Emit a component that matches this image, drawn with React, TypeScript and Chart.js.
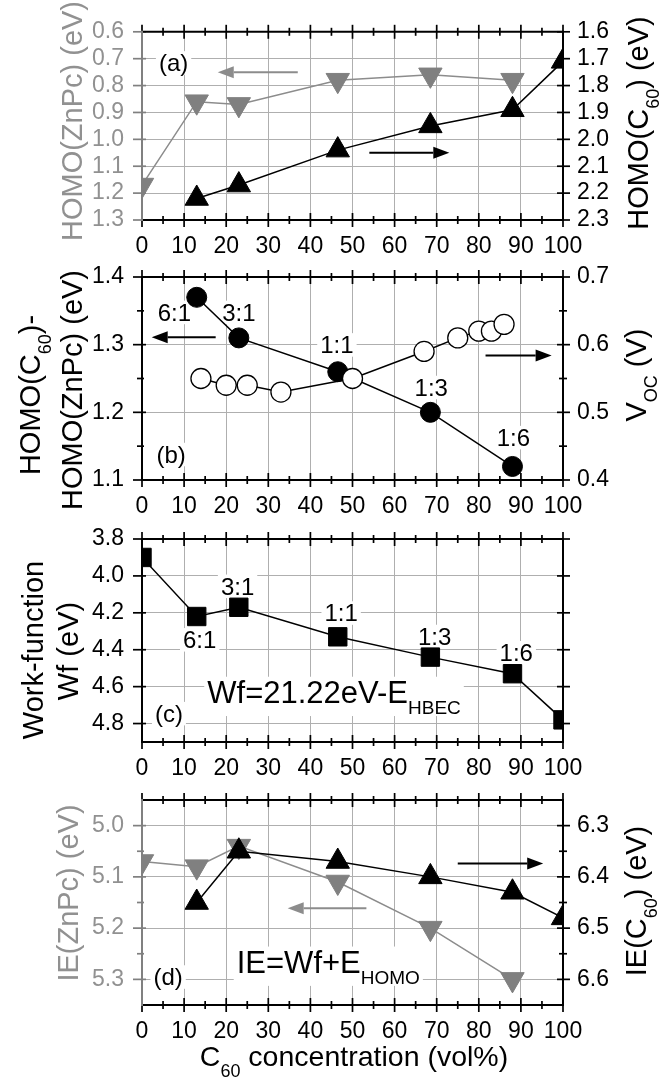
import React, { useEffect, useRef } from 'react';
import { Chart, registerables } from 'chart.js';

Chart.register(...registerables);

const W = 668;
const H = 1079;
const PLOT_L = 142;
const PLOT_R = 563;
const FONT = '"Liberation Sans", Arial, Helvetica, sans-serif';
const BLACK = '#000000';
const GRAY = 'rgb(128,128,128)';
const GRAY_LINE = 'rgb(140,140,140)';
const GRAY_TEXT = 'rgb(145,145,145)';
const GRID = 'rgb(175,175,175)';
const TICK_SIZE = 23;

// ---------------- data ----------------
const xTicks = [0, 10, 20, 30, 40, 50, 60, 70, 80, 90, 100];
const xMinor = [5, 15, 25, 35, 45, 55, 65, 75, 85, 95];

// (a) HOMO positions
const aZnPcX = [0, 13, 23, 46.5, 68.5, 88];
const aZnPcHOMO = [1.17, 0.86, 0.87, 0.78, 0.76, 0.78];
const aC60X = [13, 23, 46.5, 68.5, 88, 100];
const aC60HOMO = [2.22, 2.17, 2.04, 1.95, 1.89, 1.71];
const aLeftTicks = [0.6, 0.7, 0.8, 0.9, 1.0, 1.1, 1.2, 1.3];
const aRightTicks = [1.6, 1.7, 1.8, 1.9, 2.0, 2.1, 2.2, 2.3];

// (b) HOMO offset and Voc
const ratioLabels = ['6:1', '3:1', '1:1', '1:3', '1:6'];
const bRatioX = [13, 23, 46.5, 68.5, 88];
const bDeltaHOMO = [1.37, 1.31, 1.26, 1.2, 1.12];
const bVocX = [14, 20, 25, 33, 50, 67, 75, 80, 83, 86];
const bVoc = [0.55, 0.54, 0.54, 0.53, 0.55, 0.59, 0.61, 0.62, 0.62, 0.63];
const bLeftTicks = [1.1, 1.2, 1.3, 1.4];
const bLeftMinor = [1.15, 1.25, 1.35];
const bRightTicks = [0.4, 0.5, 0.6, 0.7];
const bRightMinor = [0.45, 0.55, 0.65];

// (c) work function
const cX = [0, 13, 23, 46.5, 68.5, 88, 100];
const cWf = [3.9, 4.22, 4.17, 4.33, 4.44, 4.53, 4.78];
const cTicks = [3.8, 4.0, 4.2, 4.4, 4.6, 4.8];

// (d) ionisation energies
const dZnPcX = [0, 13, 23, 46.5, 68.5, 88];
const dZnPcIE = [5.07, 5.08, 5.04, 5.11, 5.2, 5.3];
const dC60X = [13, 23, 46.5, 68.5, 88, 100];
const dC60IE = [6.45, 6.35, 6.37, 6.4, 6.43, 6.48];
const dLeftTicks = [5.0, 5.1, 5.2, 5.3];
const dLeftMinor = [5.05, 5.15, 5.25];
const dRightTicks = [6.3, 6.4, 6.5, 6.6];
const dRightMinor = [6.35, 6.45, 6.55];

// ---------------- helpers ----------------
type Seg = { t: string; sub?: boolean };

const pts = (xs: number[], ys: number[]) => xs.map((x, i) => ({ x, y: ys[i] }));

function drawRich(
  ctx: CanvasRenderingContext2D,
  segs: Seg[],
  x: number,
  y: number,
  size: number,
  color: string,
  opts: { rotate?: boolean; align?: 'left' | 'center'; bg?: boolean } = {}
) {
  const subSize = Math.round(size * 0.62);
  const widths = segs.map((s) => {
    ctx.font = `${s.sub ? subSize : size}px ${FONT}`;
    return ctx.measureText(s.t).width;
  });
  const total = widths.reduce((a, b) => a + b, 0);
  ctx.save();
  ctx.translate(x, y);
  if (opts.rotate) ctx.rotate(-Math.PI / 2);
  let cx = opts.align === 'left' ? 0 : -total / 2;
  const base = size * 0.36;
  const subDrop = size * 0.36;
  if (opts.bg) {
    const hasSub = segs.some((s) => s.sub);
    ctx.fillStyle = '#ffffff';
    ctx.fillRect(cx - 3, -size * 0.48, total + 6, size * 0.98 + (hasSub ? subDrop * 0.8 : 0));
  }
  ctx.fillStyle = color;
  ctx.textAlign = 'left';
  ctx.textBaseline = 'alphabetic';
  segs.forEach((s, i) => {
    ctx.font = `${s.sub ? subSize : size}px ${FONT}`;
    ctx.fillText(s.t, cx, base + (s.sub ? subDrop : 0));
    cx += widths[i];
  });
  ctx.restore();
}

function drawArrow(ctx: CanvasRenderingContext2D, x1: number, x2: number, y: number, color: string) {
  const dir = Math.sign(x2 - x1);
  const head = 16;
  const half = 6;
  ctx.save();
  ctx.strokeStyle = color;
  ctx.lineWidth = 2;
  ctx.beginPath();
  ctx.moveTo(x1, y);
  ctx.lineTo(x2 - dir * head, y);
  ctx.stroke();
  ctx.fillStyle = color;
  ctx.beginPath();
  ctx.moveTo(x2, y);
  ctx.lineTo(x2 - dir * head, y - half);
  ctx.lineTo(x2 - dir * head, y + half);
  ctx.closePath();
  ctx.fill();
  ctx.restore();
}

type AxisSpec = {
  min: number;
  max: number;
  reverse: boolean;
  ticks: number[];
  minor: number[];
  labels: boolean;
  color: string;
  axisColor: string;
};

type Note = { segs: Seg[]; x: number; y: number; axis: 'y' | 'y2'; size: number; align?: 'left' | 'center' };
type ArrowSpec = { x1: number; x2: number; y: number; axis: 'y' | 'y2'; color: string };
type Title = { segs: Seg[]; x: number; y: number; size: number; color: string; rotate: boolean };

type PanelSpec = {
  top: number;
  bottom: number;
  y: AxisSpec;
  y2: AxisSpec;
  datasets: () => any[];
  notes: Note[];
  arrows: ArrowSpec[];
  titles: Title[];
};

const triangleDown = (color: string) => ({
  showLine: true,
  borderColor: color === BLACK ? BLACK : GRAY_LINE,
  borderWidth: 1.5,
  pointStyle: 'triangle',
  pointRotation: 180,
  pointRadius: 13.5,
  pointBackgroundColor: color,
  pointBorderColor: color,
  pointBorderWidth: 1,
  clip: 0,
});
const triangleUp = (color: string) => ({ ...triangleDown(color), pointRotation: 0 });

const TS = 29; // axis title font size

// ---------------- panels ----------------
const specA: PanelSpec = {
  top: 20,
  bottom: 220,
  y: { min: 0.6, max: 1.3, reverse: true, ticks: aLeftTicks, minor: [], labels: true, color: GRAY_TEXT, axisColor: GRAY },
  y2: { min: 1.6, max: 2.3, reverse: true, ticks: aRightTicks, minor: [], labels: true, color: BLACK, axisColor: BLACK },
  datasets: () => [
    { ...triangleUp(BLACK), data: pts(aC60X, aC60HOMO), yAxisID: 'y2' },
    { ...triangleDown(GRAY), data: pts(aZnPcX, aZnPcHOMO), yAxisID: 'y' },
  ],
  notes: [{ segs: [{ t: '(a)' }], x: 7.5, y: 0.715, axis: 'y', size: 24 }],
  arrows: [
    { x1: 37, x2: 18, y: 0.75, axis: 'y', color: GRAY_LINE },
    { x1: 54, x2: 73, y: 2.05, axis: 'y2', color: BLACK },
  ],
  titles: [
    { segs: [{ t: 'HOMO(ZnPc) (eV)' }], x: 72, y: 121, size: TS, color: GRAY_TEXT, rotate: true },
    { segs: [{ t: 'HOMO(C' }, { t: '60', sub: true }, { t: ') (eV)' }], x: 638, y: 123, size: TS, color: BLACK, rotate: true },
  ],
};

const ratioNotesB: [number, number][] = [
  [7.7, 1.348],
  [23, 1.348],
  [46.3, 1.3],
  [68.7, 1.237],
  [88.2, 1.163],
];

const specB: PanelSpec = {
  top: 277,
  bottom: 480,
  y: { min: 1.1, max: 1.4, reverse: false, ticks: bLeftTicks, minor: bLeftMinor, labels: true, color: BLACK, axisColor: BLACK },
  y2: { min: 0.4, max: 0.7, reverse: false, ticks: bRightTicks, minor: bRightMinor, labels: true, color: BLACK, axisColor: BLACK },
  datasets: () => [
    {
      data: pts(bVocX, bVoc),
      yAxisID: 'y2',
      showLine: true,
      borderColor: BLACK,
      borderWidth: 1.5,
      pointStyle: 'circle',
      pointRadius: 10,
      pointBackgroundColor: '#ffffff',
      pointBorderColor: BLACK,
      pointBorderWidth: 1.3,
      clip: 0,
    },
    {
      data: pts(bRatioX, bDeltaHOMO),
      yAxisID: 'y',
      showLine: true,
      borderColor: BLACK,
      borderWidth: 1.5,
      pointStyle: 'circle',
      pointRadius: 10,
      pointBackgroundColor: BLACK,
      pointBorderColor: BLACK,
      pointBorderWidth: 1,
      clip: 0,
    },
  ],
  notes: [
    ...ratioLabels.map((t, i) => ({ segs: [{ t }], x: ratioNotesB[i][0], y: ratioNotesB[i][1], axis: 'y' as const, size: 24 })),
    { segs: [{ t: '(b)' }], x: 6.9, y: 1.138, axis: 'y', size: 24 },
  ],
  arrows: [
    { x1: 17.5, x2: 2.3, y: 1.311, axis: 'y', color: BLACK },
    { x1: 81.6, x2: 97.3, y: 1.284, axis: 'y', color: BLACK },
  ],
  titles: [
    { segs: [{ t: 'HOMO(C' }, { t: '60', sub: true }, { t: ')-' }], x: 30, y: 395, size: TS, color: BLACK, rotate: true },
    { segs: [{ t: 'HOMO(ZnPc) (eV)' }], x: 72, y: 390, size: TS, color: BLACK, rotate: true },
    { segs: [{ t: 'V' }, { t: 'OC', sub: true }, { t: ' (V)' }], x: 636, y: 375, size: TS, color: BLACK, rotate: true },
  ],
};

const ratioNotesC: [number, number][] = [
  [13.7, 4.345],
  [22.7, 4.055],
  [47.3, 4.2],
  [69.5, 4.327],
  [88.9, 4.415],
];

const specC: PanelSpec = {
  top: 539,
  bottom: 742,
  y: { min: 3.8, max: 4.9, reverse: true, ticks: cTicks, minor: [], labels: true, color: BLACK, axisColor: BLACK },
  y2: { min: 3.8, max: 4.9, reverse: true, ticks: cTicks, minor: [], labels: false, color: BLACK, axisColor: BLACK },
  datasets: () => [
    {
      data: pts(cX, cWf),
      yAxisID: 'y',
      showLine: true,
      borderColor: BLACK,
      borderWidth: 1.5,
      pointStyle: 'rect',
      pointRadius: 13,
      pointBackgroundColor: BLACK,
      pointBorderColor: BLACK,
      pointBorderWidth: 1,
      clip: 0,
    },
  ],
  notes: [
    ...ratioLabels.map((t, i) => ({ segs: [{ t }], x: ratioNotesC[i][0], y: ratioNotesC[i][1], axis: 'y' as const, size: 24 })),
    { segs: [{ t: '(c)' }], x: 6.4, y: 4.745, axis: 'y', size: 24 },
    { segs: [{ t: 'Wf=21.22eV-E' }, { t: 'HBEC', sub: true }], x: 15.5, y: 4.627, axis: 'y', size: 31, align: 'left' },
  ],
  arrows: [],
  titles: [
    { segs: [{ t: 'Work-function' }], x: 33, y: 650, size: TS, color: BLACK, rotate: true },
    { segs: [{ t: 'Wf (eV)' }], x: 68, y: 651, size: TS, color: BLACK, rotate: true },
  ],
};

const specD: PanelSpec = {
  top: 800,
  bottom: 1005,
  y: { min: 4.95, max: 5.35, reverse: true, ticks: dLeftTicks, minor: dLeftMinor, labels: true, color: GRAY_TEXT, axisColor: GRAY },
  y2: { min: 6.25, max: 6.65, reverse: true, ticks: dRightTicks, minor: dRightMinor, labels: true, color: BLACK, axisColor: BLACK },
  datasets: () => [
    { ...triangleUp(BLACK), data: pts(dC60X, dC60IE), yAxisID: 'y2' },
    { ...triangleDown(GRAY), data: pts(dZnPcX, dZnPcIE), yAxisID: 'y' },
  ],
  notes: [
    { segs: [{ t: '(d)' }], x: 6.2, y: 5.295, axis: 'y', size: 24 },
    { segs: [{ t: 'IE=Wf+E' }, { t: 'HOMO', sub: true }], x: 22.5, y: 5.265, axis: 'y', size: 31, align: 'left' },
  ],
  arrows: [
    { x1: 75, x2: 95.3, y: 6.374, axis: 'y2', color: BLACK },
    { x1: 53.3, x2: 34.6, y: 5.161, axis: 'y', color: GRAY_LINE },
  ],
  titles: [
    { segs: [{ t: 'IE(ZnPc) (eV)' }], x: 68, y: 893, size: TS, color: GRAY_TEXT, rotate: true },
    { segs: [{ t: 'IE(C' }, { t: '60', sub: true }, { t: ') (eV)' }], x: 636, y: 901, size: TS, color: BLACK, rotate: true },
    { segs: [{ t: 'C' }, { t: '60', sub: true }, { t: ' concentration (vol%)' }], x: 354, y: 1056, size: 28.5, color: BLACK, rotate: false },
  ],
};

const panels = [specA, specB, specC, specD];

// ---------------- chart ----------------
const LW = 80;
const RW = 80;
const XH = 40;

function yScale(a: AxisSpec, position: 'left' | 'right', grid: boolean) {
  return {
    type: 'linear',
    position,
    min: a.min,
    max: a.max,
    reverse: a.reverse,
    afterBuildTicks: (s: any) => {
      s.ticks = a.ticks.map((v) => ({ value: v }));
    },
    afterFit: (s: any) => {
      s.width = position === 'left' ? LW : RW;
    },
    ticks: {
      display: a.labels,
      autoSkip: false,
      font: { family: FONT, size: TICK_SIZE },
      color: a.color,
      padding: position === 'left' ? 18 : 14,
      callback: (v: any) => Number(v).toFixed(1),
    },
    grid: { display: grid, drawOnChartArea: grid, drawTicks: false, color: GRID, lineWidth: 1 },
    border: { display: false },
  };
}

function makeChart(canvas: HTMLCanvasElement, p: PanelSpec) {
  const frame = {
    id: 'frame',
    beforeDatasetsDraw(chart: any) {
      const ctx = chart.ctx as CanvasRenderingContext2D;
      const xs = chart.scales.x;
      p.notes.forEach((n) => {
        const sc = chart.scales[n.axis];
        drawRich(ctx, n.segs, xs.getPixelForValue(n.x), sc.getPixelForValue(n.y), n.size, BLACK, {
          align: n.align || 'center',
          bg: true,
        });
      });
      p.arrows.forEach((a) => {
        const sc = chart.scales[a.axis];
        drawArrow(ctx, xs.getPixelForValue(a.x1), xs.getPixelForValue(a.x2), sc.getPixelForValue(a.y), a.color);
      });
    },
    afterDatasetsDraw(chart: any) {
      const ctx = chart.ctx as CanvasRenderingContext2D;
      const { left, right, top, bottom } = chart.chartArea;
      const xs = chart.scales.x;
      const ys = chart.scales.y;
      const y2 = chart.scales.y2;
      const seg = (x1: number, y1: number, x2: number, y2v: number, color: string, w: number) => {
        ctx.strokeStyle = color;
        ctx.lineWidth = w;
        ctx.beginPath();
        ctx.moveTo(x1, y1);
        ctx.lineTo(x2, y2v);
        ctx.stroke();
      };
      ctx.save();
      ctx.lineCap = 'butt';
      xTicks.forEach((v) => {
        const px = xs.getPixelForValue(v);
        seg(px, bottom - 7, px, bottom + 7, BLACK, 1.7);
        seg(px, top - 7, px, top + 7, BLACK, 1.7);
      });
      xMinor.forEach((v) => {
        const px = xs.getPixelForValue(v);
        seg(px, bottom - 4, px, bottom + 4, BLACK, 1.7);
        seg(px, top - 4, px, top + 4, BLACK, 1.7);
      });
      p.y.ticks.forEach((v) => {
        const py = ys.getPixelForValue(v);
        seg(left - 9, py, left + 4, py, p.y.axisColor, 1.7);
      });
      p.y.minor.forEach((v) => {
        const py = ys.getPixelForValue(v);
        seg(left - 5, py, left + 2, py, p.y.axisColor, 1.7);
      });
      p.y2.ticks.forEach((v) => {
        const py = y2.getPixelForValue(v);
        seg(right - 6, py, right + 7, py, BLACK, 1.7);
      });
      p.y2.minor.forEach((v) => {
        const py = y2.getPixelForValue(v);
        seg(right - 4, py, right + 4, py, BLACK, 1.7);
      });
      seg(left, top, right + 1, top, BLACK, 2);
      seg(left, bottom, right + 1, bottom, BLACK, 2);
      seg(right, top - 1, right, bottom + 1, BLACK, 2);
      seg(left, top - 1, left, bottom + 1, p.y.axisColor, 2);
      ctx.restore();
    },
    afterDraw(chart: any) {
      const ctx = chart.ctx as CanvasRenderingContext2D;
      p.titles.forEach((t) => {
        drawRich(ctx, t.segs, t.x, t.y, t.size, t.color, { rotate: t.rotate, align: 'center' });
      });
    },
  };

  return new Chart(canvas, {
    type: 'scatter',
    data: { datasets: p.datasets() },
    options: {
      animation: false,
      responsive: false,
      devicePixelRatio: 1,
      events: [],
      layout: {
        padding: {
          left: PLOT_L - LW,
          right: W - PLOT_R - RW,
          top: p.top,
          bottom: H - p.bottom - XH,
        },
      },
      elements: { line: { tension: 0 } },
      plugins: { legend: { display: false }, tooltip: { enabled: false } },
      scales: {
        x: {
          type: 'linear',
          position: 'bottom',
          min: 0,
          max: 100,
          afterBuildTicks: (s: any) => {
            s.ticks = xTicks.map((v) => ({ value: v }));
          },
          afterFit: (s: any) => {
            s.height = XH;
          },
          ticks: {
            autoSkip: false,
            maxRotation: 0,
            font: { family: FONT, size: TICK_SIZE },
            color: BLACK,
            padding: 13,
            callback: (v: any) => String(v),
          },
          grid: { drawTicks: false, color: GRID, lineWidth: 1 },
          border: { display: false },
        },
        y: yScale(p.y, 'left', true),
        y2: yScale(p.y2, 'right', false),
      },
    },
    plugins: [frame],
  } as any);
}

function Panel({ spec }: { spec: PanelSpec }) {
  const ref = useRef<HTMLCanvasElement>(null);
  useEffect(() => {
    const chart = makeChart(ref.current as HTMLCanvasElement, spec);
    return () => chart.destroy();
  }, [spec]);
  return (
    <canvas
      ref={ref}
      width={W}
      height={H}
      style={{ position: 'absolute', left: 0, top: 0, width: W, height: H }}
    />
  );
}

export default function App() {
  return (
    <div style={{ position: 'absolute', left: 0, top: 0, width: W, height: H, background: '#ffffff', overflow: 'hidden' }}>
      {panels.map((p, i) => (
        <Panel key={i} spec={p} />
      ))}
    </div>
  );
}
